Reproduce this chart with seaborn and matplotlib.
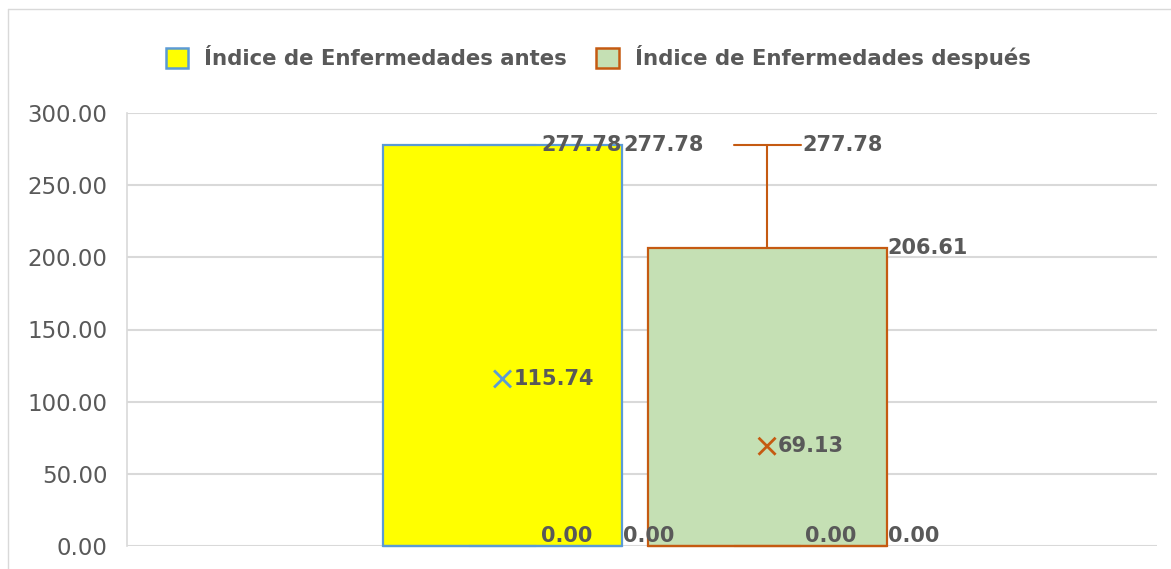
import matplotlib
matplotlib.use("Agg")
import matplotlib.pyplot as plt
from matplotlib.patches import Patch
from matplotlib.lines import Line2D
import seaborn as sns

# valores (diagrama de caja de Excel)
groups = ["Índice de Enfermedades antes", "Índice de Enfermedades después"]
q1 = [0.00, 0.00]
median = [0.00, 0.00]
q3 = [277.78, 206.61]
whisk_lo = [0.00, 0.00]
whisk_hi = [277.78, 277.78]
means = [115.74, 69.13]

face_colors = ["#FFFF00", "#C5E0B4"]
edge_colors = ["#5B9BD5", "#C55A11"]
label_color = "#595959"
grid_color = "#D9D9D9"

positions = [1, 2]
box_w = 0.904
cap_w = 0.253

sns.set_theme(style="white")
plt.rcParams["font.family"] = ["DejaVu Sans"]

fig = plt.figure(figsize=(11.71, 5.69), dpi=100)
ax = fig.add_axes([127 / 1171, 23 / 569, 1030 / 1171, 433 / 569])

for i in range(len(groups)):
    stat = dict(q1=q1[i], med=median[i], q3=q3[i], whislo=whisk_lo[i],
                whishi=whisk_hi[i], mean=means[i], fliers=[], label=groups[i])
    parts = ax.bxp([stat], positions=[positions[i]], widths=box_w, capwidths=cap_w,
                   patch_artist=True, showmeans=False, manage_ticks=False,
                   boxprops=dict(facecolor=face_colors[i], edgecolor=edge_colors[i], linewidth=1.6),
                   whiskerprops=dict(color=edge_colors[i], linewidth=1.5),
                   capprops=dict(color=edge_colors[i], linewidth=1.5),
                   medianprops=dict(color=edge_colors[i], linewidth=1.6))
    for arts in parts.values():
        for a in arts:
            a.set_clip_on(False)

# marcadores de la media
sns.scatterplot(x=positions, y=means, hue=groups, palette=edge_colors, marker="x",
                s=150, linewidth=2, legend=False, ax=ax, zorder=5)

ax.set_xlim(-0.4197, 3.474)
ax.set_ylim(0, 300)
ax.set_yticks([0, 50, 100, 150, 200, 250, 300])
ax.set_yticklabels([f"{v:.2f}" for v in [0, 50, 100, 150, 200, 250, 300]])
ax.set_xticks([])
ax.tick_params(axis="y", length=0, pad=14, labelsize=16.5, labelcolor=label_color)
ax.yaxis.grid(True, color=grid_color, linewidth=1.5)
ax.set_axisbelow(True)
for side in ["top", "right", "bottom"]:
    ax.spines[side].set_visible(False)
ax.spines["left"].set_color(grid_color)
ax.spines["left"].set_linewidth(1.2)

px = 0.72  # pixeles -> puntos
lab = dict(textcoords="offset points", fontsize=15, fontweight="bold",
           color=label_color, va="center", zorder=6)

def put(x, y, txt, dx, dy, ha):
    ax.annotate(txt, (x, y), xytext=(dx * px, dy * px), ha=ha, **lab)

half = box_w / 2
# antes
put(positions[0] + half, q3[0], f"{q3[0]:.2f}", 0, 0, "right")
put(positions[0] + half, whisk_hi[0], f"{whisk_hi[0]:.2f}", 1, 0, "left")
put(positions[0] + half, median[0], f"{median[0]:.2f}", -30, 10, "right")
put(positions[0] + half, whisk_lo[0], f"{whisk_lo[0]:.2f}", 1, 10, "left")
put(positions[0], means[0], f"{means[0]:.2f}", 11, 0, "left")
# despues
put(positions[1] + cap_w / 2, whisk_hi[1], f"{whisk_hi[1]:.2f}", 2, 0, "left")
put(positions[1] + half, q3[1], f"{q3[1]:.2f}", 1, 0, "left")
put(positions[1] + half, median[1], f"{median[1]:.2f}", -30, 10, "right")
put(positions[1] + half, whisk_lo[1], f"{whisk_lo[1]:.2f}", 1, 10, "left")
put(positions[1], means[1], f"{means[1]:.2f}", 11, 0, "left")

handles = [Patch(facecolor=face_colors[i], edgecolor=edge_colors[i], linewidth=1.8)
           for i in range(len(groups))]
leg = fig.legend(handles, groups, loc="center", bbox_to_anchor=(598 / 1171, 1 - 57 / 569),
                 ncol=2, frameon=False, handlelength=1.05, handleheight=1.05,
                 handletextpad=0.75, columnspacing=1.4,
                 prop=dict(size=15.3, weight="bold"))
for t in leg.get_texts():
    t.set_color(label_color)

# borde del area del grafico
fig.add_artist(Line2D([8 / 1171, 1], [1 - 9 / 569] * 2, color=grid_color, lw=1))
fig.add_artist(Line2D([8 / 1171] * 2, [0, 1 - 9 / 569], color=grid_color, lw=1))

fig.savefig("out.png", dpi=100)
